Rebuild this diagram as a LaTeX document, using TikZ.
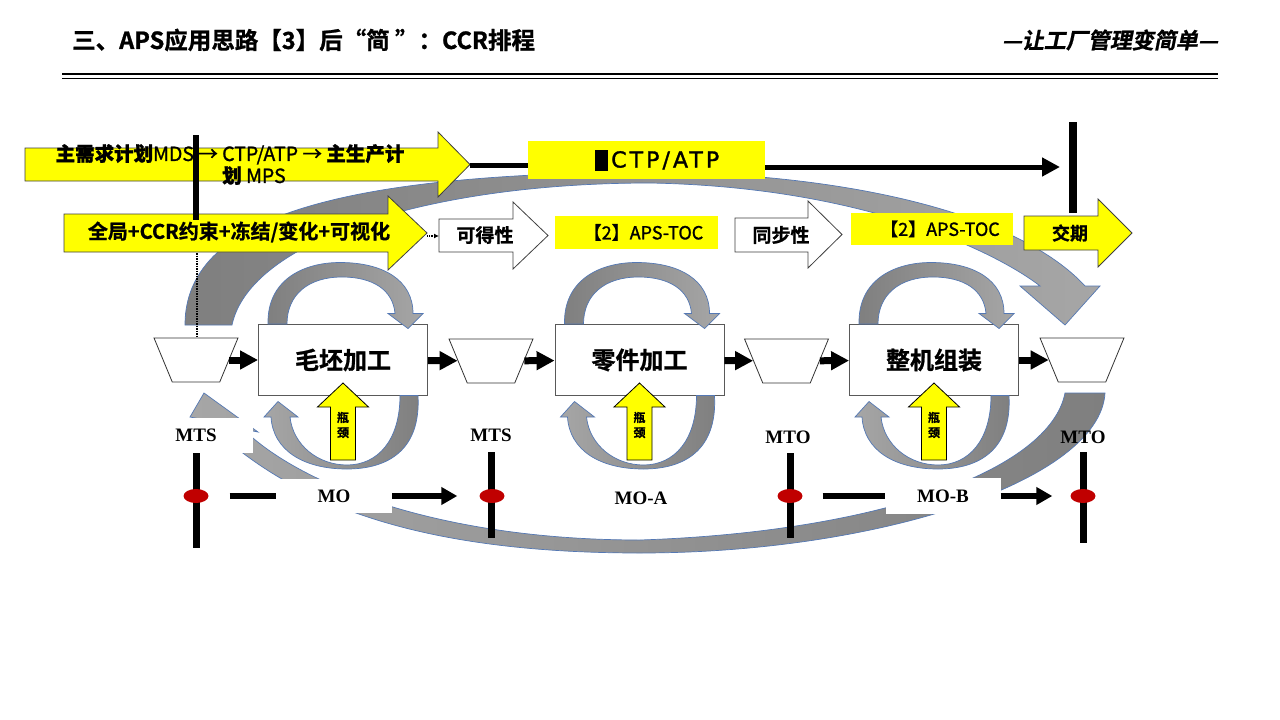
\documentclass[tikz,border=0pt]{standalone}
\usepackage{fontspec}
\setmainfont{Noto Sans CJK SC}[BoldFont={Noto Sans CJK SC Bold},BoldFeatures={FakeBold=1}]
\newfontfamily\medfont{Noto Sans CJK SC}[FakeBold=1.2]
\newfontfamily\slantfont{Noto Sans CJK SC Bold}[FakeSlant=0.2,FakeBold=1]
\newfontfamily\romanfont{Liberation Serif}[BoldFont={Liberation Serif Bold}]
\newfontfamily\ctpfont{DejaVu Sans}[LetterSpace=14,FakeBold=1.6]
\usetikzlibrary{shapes.geometric,arrows.meta,positioning}

\newcommand\fsz[1]{\fontsize{#1}{#1}\selectfont}

\definecolor{hiyellow}{RGB}{255,255,0}
\definecolor{loopdark}{RGB}{127,127,127}
\definecolor{looplight}{RGB}{166,166,166}
\definecolor{loopedge}{RGB}{84,120,180}
\definecolor{pinred}{RGB}{192,0,0}

\tikzset{
  yarrow/.style={fill=hiyellow,draw=black!75,line width=0.8},
  warrow/.style={fill=white,draw=black!75,line width=0.8},
  ybox/.style={fill=hiyellow,inner sep=0,font=\medfont\fsz{18}},
  proc/.style={draw=black!65,fill=white,line width=0.9,minimum width=169,minimum height=71,inner sep=0,font=\bfseries\fsz{24}},
  buffer/.style={trapezium,shape border rotate=180,trapezium stretches=true,trapezium left angle=69,trapezium right angle=69,draw=black!80,fill=white,line width=0.8,minimum width=84,minimum height=44,inner sep=3pt},
  flow/.style={line width=7,-{Triangle[length=18pt,width=18pt]}},
  loopband/.style={draw=loopedge,line width=0.7},
  neck/.style={fill=hiyellow,draw=black,line width=0.8},
  tag/.style={font=\romanfont\bfseries\fsz{19},inner sep=0},
  pinmark/.style={ellipse,fill=pinred,minimum width=25,minimum height=14,inner sep=0},
  post/.style={line width=7},
  moline/.style={line width=6},
  moarrow/.style={line width=6,-{Triangle[length=16pt,width=17pt]}},
}

\begin{document}
\begin{tikzpicture}[x=1pt,y=-1pt]
\useasboundingbox[fill=white] (0,0) rectangle (1280,720);

% header
\node[anchor=west,inner sep=0,font=\bfseries\fsz{23.5}] (title) at (72,40) {三、APS应用思路【3】后“简 ”：CCR排程};
\node[anchor=east,inner sep=0,font=\slantfont\fsz{22}] (motto) at (1218,40) {—让工厂管理变简单—};
\draw[line width=2.5] (62,74) -- (1218,74);
\draw[line width=1.3] (62,78.5) -- (1218,78.5);

% big grey arcs
\path[loopband,left color=loopdark,right color=looplight] (185,325) .. controls (185,220) and (330,175) .. (640,172) .. controls (850,172) and (1020,215) .. (1085,286) -- (1100,286) -- (1065,325) -- (1020,286) -- (1040,286) .. controls (1000,255) and (870,187) .. (650,183) .. controls (430,183) and (250,240) .. (232,325) -- cycle;
\path[loopband,left color=looplight,right color=loopdark] (1105,393) .. controls (1100,480) and (880,553) .. (640,553) .. controls (420,553) and (290,505) .. (205,420) -- (190,417) -- (204,393) -- (258,432) -- (243,429) .. controls (300,485) and (440,540) .. (640,540) .. controls (880,532) and (1050,470) .. (1065,393) -- cycle;

% plan arrows
\path[yarrow] (25,148) -- (438,148) -- (438,132) -- (470,164.5) -- (438,197) -- (438,181) -- (25,181) -- cycle;
\coordinate (mdstip) at (470,165);
\node[inner sep=0,align=center,font=\medfont\fontsize{19.5}{22}\selectfont] (mdstext) at (230,164.5) {\textbf{主需求计划}MDS → CTP/ATP → \textbf{主生产计}\\\hspace*{48pt}\textbf{划} MPS};

\path[yarrow] (64,214) -- (388,214) -- (388,196) -- (427,233) -- (388,270) -- (388,252) -- (64,252) -- cycle;
\coordinate (ccrtip) at (427,236);
\node[inner sep=0,font=\bfseries\fsz{20}] (ccrtext) at (239,232) {全局+CCR约束+冻结/变化+可视化};

\path[warrow] (439,219) -- (513,219) -- (513,202) -- (548,235.5) -- (513,269) -- (513,252) -- (439,252) -- cycle;
\coordinate (availtail) at (439,236);
\node[inner sep=0,font=\bfseries\fsz{19}] (avail) at (485,235) {可得性};

\path[warrow] (735,218) -- (808,218) -- (808,201) -- (842,234.5) -- (808,268) -- (808,252) -- (735,252) -- cycle;
\node[inner sep=0,font=\bfseries\fsz{19}] (sync) at (781,235) {同步性};

\path[yarrow] (1024,216) -- (1098,216) -- (1098,199) -- (1132,233) -- (1098,267) -- (1098,250) -- (1024,250) -- cycle;
\node[inner sep=0,font=\bfseries\fsz{18}] (due) at (1070,233) {交期};

\node[ybox,minimum width=163,minimum height=33] (toc1) at (636.5,232.5) {\hspace*{14pt}【2】APS-TOC};
\node[ybox,minimum width=162,minimum height=32] (toc2) at (932,229) {\hspace*{16pt}【2】APS-TOC};

\node[fill=hiyellow,minimum width=237,minimum height=38,inner sep=0] (ctp) at (646.5,160) {};
\node[anchor=base west,inner sep=0,font=\ctpfont\fsz{22}] (ctplabel) at (595,167.5) {\rule[-3pt]{13pt}{21pt}\hspace{3pt}CTP/ATP};
\coordinate (duedate) at (1060,167);

\draw[line width=5] (mdstip) -- (ctp.west |- mdstip);
\draw[line width=5,-{Triangle[length=18pt,width=18pt]}] ([yshift=-7pt]ctp.east) -- (duedate);
\draw[densely dotted,line width=1.2,-{Latex[length=5pt,width=5pt]}] (ccrtip) -- (availtail);

\draw[line width=6] (196,135) -- (196,220);
\draw[line width=8] (1073,122) -- (1073,213);
\draw[densely dotted,line width=1.5] (197,253) -- (197,337);

% process boxes and buffers
\node[proc] (blank) at (343,360) {毛坯加工};
\node[proc] (part) at (639.5,360) {零件加工};
\node[proc] (assy) at (934,360) {整机组装};

\node[buffer] (stock0) at (196,360) {};
\node[buffer] (stock1) at (491,361) {};
\node[buffer] (stock2) at (786.5,361) {};
\node[buffer] (stock3) at (1082,360) {};

\draw[flow] (stock0) -- (blank);
\draw[flow] (blank) -- (stock1);
\draw[flow] (stock1) -- (part);
\draw[flow] (part) -- (stock2);
\draw[flow] (stock2) -- (assy);
\draw[flow] (assy) -- (stock3);

% loops and bottlenecks
\foreach \cx/\nm in {343/a,639.5/b,934/c}{
  \begin{scope}[shift={(\cx,360)}]
    \path[loopband,left color=loopdark,right color=looplight] (-75,-36) .. controls (-76,-80) and (-40,-97.5) .. (-3,-97.5) .. controls (40,-97.5) and (70,-80) .. (70,-46.5) -- (80,-46.5) -- (65,-31.5) -- (45,-46.5) -- (52,-46.5) .. controls (50,-70) and (30,-83) .. (-1,-83) .. controls (-35,-83) and (-56,-65) .. (-56,-36) -- cycle;
    \path[loopband,left color=looplight,right color=loopdark] (75,35.5) .. controls (78,90) and (45,109) .. (4,109) .. controls (-40,109) and (-70,90) .. (-72,57) -- (-79,57) -- (-65,41.5) -- (-45,57) -- (-53,57) .. controls (-50,85) and (-25,105) .. (4,105) .. controls (35,105) and (57,80) .. (57,35.5) -- cycle;
    \path[neck] (0,23) -- (25.5,47) -- (12.5,47) -- (12.5,100) -- (-12.5,100) -- (-12.5,47) -- (-25.5,47) -- cycle;
    \node[inner sep=0,align=center,font=\bfseries\fontsize{12}{15}\selectfont] (neck\nm) at (0,65) {瓶\\颈};
  \end{scope}
}

% order lines
\node[tag,fill=white,minimum width=114,minimum height=35] (mts0) at (196,435) {MTS};
\node[tag] (mts1) at (491,435) {MTS};
\node[tag] (mto0) at (788,437) {MTO};
\node[tag] (mto1) at (1083,437) {MTO};

\draw[post] (196,453) -- (196,548);
\draw[post] (491,452) -- (491,538);
\draw[post] (790,453) -- (790,538);
\draw[post] (1083,452) -- (1083,543);

\node[pinmark] (pin0) at (196,496) {};
\node[pinmark] (pin1) at (492,496) {};
\node[pinmark] (pin2) at (790,496) {};
\node[pinmark] (pin3) at (1083,496) {};

\node[tag,fill=white,minimum width=116,minimum height=34] (mo) at (334,496) {MO};
\node[tag] (moa) at (641,498) {MO-A};
\node[tag,fill=white,minimum width=115,minimum height=36] (mob) at (943,496) {MO-B};

\draw[moline,shorten <=21] (pin0) -- (mo);
\draw[moarrow,shorten >=22] (mo) -- (pin1);
\draw[moline,shorten <=20] (pin2) -- (mob);
\draw[moarrow,shorten >=18] (mob) -- (pin3);
\end{tikzpicture}
\end{document}
